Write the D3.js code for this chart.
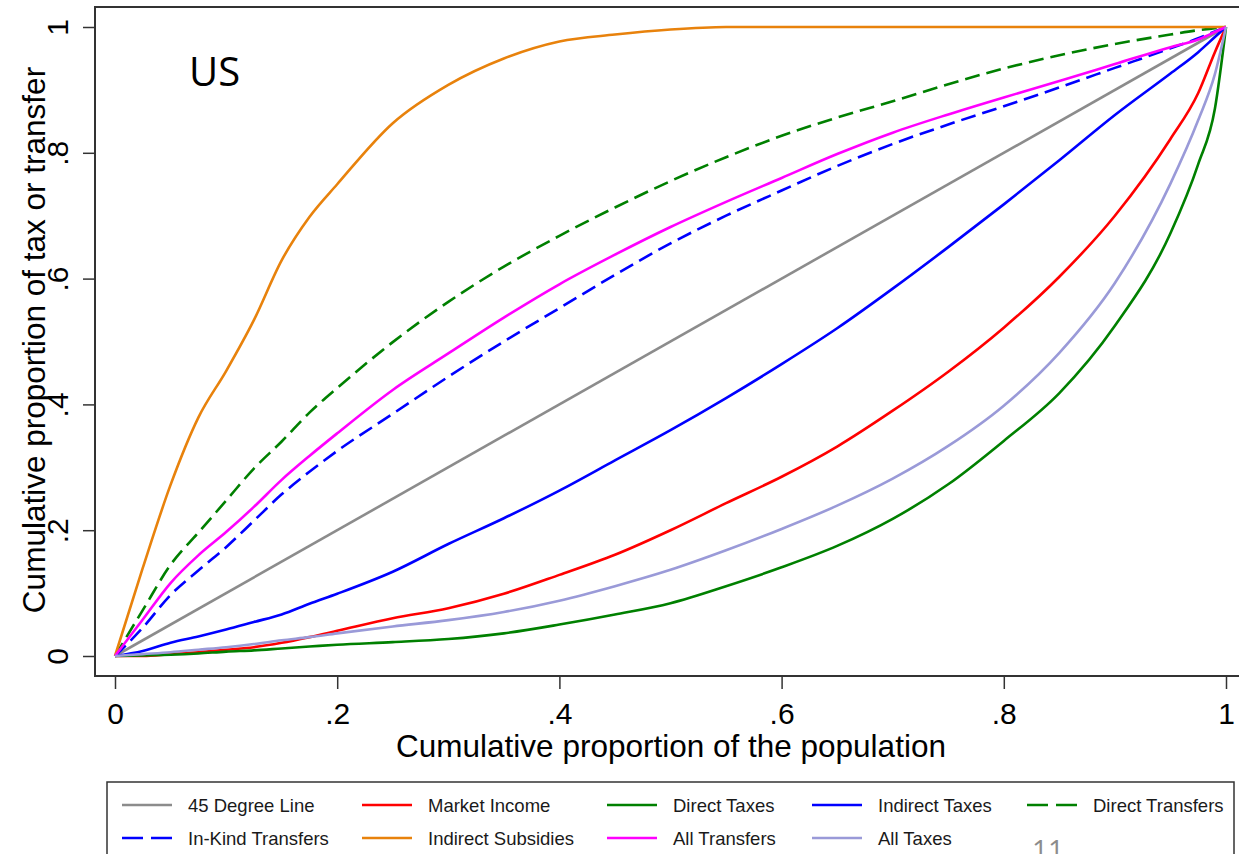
<!DOCTYPE html>
<html>
<head>
<meta charset="utf-8">
<script src="https://cdn.jsdelivr.net/npm/d3@7"></script>
<style>
	body { margin: 0; background: #fff; overflow: hidden; }
	text { font-family: "Liberation Sans", Arial, sans-serif; }
</style>
</head>
<body>
<svg id="chart" width="1239" height="854"></svg>
<script>
// cumulative proportion of the population (x grid)
const popShare = [0, 0.025, 0.05, 0.075, 0.1, 0.125, 0.15, 0.175, 0.2, 0.25, 0.3, 0.35, 0.4, 0.45, 0.5, 0.55, 0.6, 0.65, 0.7, 0.75, 0.8, 0.85, 0.9, 0.95, 0.975, 0.99, 1];

// concentration curves
const line45X = [0, 1];
const line45Y = [0, 1];
const marketIncome = [0, 0, 0.003, 0.006, 0.01, 0.014, 0.021, 0.03, 0.04, 0.06, 0.076, 0.099, 0.129, 0.161, 0.2, 0.243, 0.285, 0.333, 0.39, 0.452, 0.522, 0.603, 0.70, 0.822, 0.895, 0.96, 1];
const directTaxes = [0, 0.001, 0.002, 0.004, 0.007, 0.009, 0.012, 0.015, 0.018, 0.022, 0.027, 0.036, 0.05, 0.066, 0.084, 0.111, 0.141, 0.175, 0.218, 0.273, 0.342, 0.418, 0.525, 0.672, 0.782, 0.87, 1];
const indirectTaxes = [0, 0.008, 0.021, 0.031, 0.042, 0.054, 0.066, 0.083, 0.099, 0.134, 0.178, 0.219, 0.263, 0.311, 0.359, 0.41, 0.464, 0.521, 0.584, 0.65, 0.718, 0.788, 0.86, 0.926, 0.96, 0.984, 1];
const directTransfers = [0, 0.073, 0.145, 0.196, 0.247, 0.298, 0.341, 0.387, 0.426, 0.499, 0.563, 0.619, 0.668, 0.713, 0.755, 0.793, 0.827, 0.856, 0.882, 0.909, 0.934, 0.955, 0.973, 0.988, 0.995, 0.998, 1];
const inKindTransfers = [0, 0.045, 0.097, 0.136, 0.173, 0.215, 0.257, 0.293, 0.326, 0.385, 0.444, 0.5, 0.553, 0.606, 0.656, 0.70, 0.74, 0.779, 0.814, 0.845, 0.874, 0.904, 0.935, 0.966, 0.982, 0.993, 1];
const indirectSubsidies = [0, 0.14, 0.272, 0.379, 0.453, 0.534, 0.629, 0.698, 0.75, 0.847, 0.908, 0.95, 0.977, 0.988, 0.996, 1, 1, 1, 1, 1, 1, 1, 1, 1, 1, 1, 1];
const allTransfers = [0, 0.058, 0.116, 0.16, 0.197, 0.237, 0.28, 0.318, 0.354, 0.423, 0.481, 0.538, 0.591, 0.638, 0.682, 0.722, 0.76, 0.798, 0.832, 0.861, 0.888, 0.914, 0.941, 0.968, 0.98, 0.992, 1];
const allTaxes = [0, 0.003, 0.006, 0.01, 0.014, 0.019, 0.025, 0.03, 0.036, 0.047, 0.057, 0.07, 0.088, 0.111, 0.137, 0.168, 0.202, 0.239, 0.282, 0.334, 0.398, 0.482, 0.593, 0.751, 0.852, 0.925, 1];

const tickValues = [0, 0.2, 0.4, 0.6, 0.8, 1];

const series = [
	{ name: "45 Degree Line", xs: line45X, ys: line45Y, color: "#8c8c8c", dashed: false },
	{ name: "Market Income", xs: popShare, ys: marketIncome, color: "#ff0000", dashed: false },
	{ name: "Direct Taxes", xs: popShare, ys: directTaxes, color: "#008000", dashed: false },
	{ name: "Indirect Taxes", xs: popShare, ys: indirectTaxes, color: "#0000ff", dashed: false },
	{ name: "Direct Transfers", xs: popShare, ys: directTransfers, color: "#008000", dashed: true },
	{ name: "In-Kind Transfers", xs: popShare, ys: inKindTransfers, color: "#0000ff", dashed: true },
	{ name: "Indirect Subsidies", xs: popShare, ys: indirectSubsidies, color: "#e8820c", dashed: false },
	{ name: "All Transfers", xs: popShare, ys: allTransfers, color: "#ff00ff", dashed: false },
	{ name: "All Taxes", xs: popShare, ys: allTaxes, color: "#9a9ad8", dashed: false }
];

const svg = d3.select("#chart");

const x = d3.scaleLinear().domain([0, 1]).range([115, 1226]);
const y = d3.scaleLinear().domain([0, 1]).range([656, 27]);

const fmt = d => (d === 0 || d === 1) ? String(d) : String(d).replace("0.", ".");

// plot region frame (right side runs off the page)
svg.append("rect")
	.attr("x", 95).attr("y", 7)
	.attr("width", 1151).attr("height", 669)
	.attr("fill", "none")
	.attr("stroke", "#333")
	.attr("stroke-width", 2);

// y axis
const yAxis = svg.append("g")
	.attr("transform", "translate(95,0)")
	.call(d3.axisLeft(y).tickValues(tickValues).tickFormat(fmt).tickSize(12));
yAxis.select(".domain").remove();
yAxis.selectAll("line").attr("stroke", "#333").attr("stroke-width", 1.5);
yAxis.selectAll("text")
	.attr("x", null).attr("dy", null)
	.attr("transform", "translate(-27,0) rotate(-90)")
	.attr("text-anchor", "middle")
	.attr("fill", "#000")
	.style("font-size", "30px");

// x axis
const xAxis = svg.append("g")
	.attr("transform", "translate(0,676)")
	.call(d3.axisBottom(x).tickValues(tickValues).tickFormat(fmt).tickSize(13));
xAxis.select(".domain").remove();
xAxis.selectAll("line").attr("stroke", "#333").attr("stroke-width", 1.5);
xAxis.selectAll("text")
	.attr("y", 48).attr("dy", null)
	.attr("fill", "#000")
	.style("font-size", "30px");

// axis titles
svg.append("text")
	.attr("x", 671).attr("y", 757)
	.attr("text-anchor", "middle")
	.style("font-size", "31.5px")
	.text("Cumulative proportion of the population");

svg.append("text")
	.attr("transform", "translate(45,340) rotate(-90)")
	.attr("text-anchor", "middle")
	.style("font-size", "31.5px")
	.text("Cumulative proportion of tax or transfer");

// curves
const line = d3.line()
	.x(d => x(d[0]))
	.y(d => y(d[1]))
	.curve(d3.curveMonotoneX);

svg.append("g").selectAll("path")
	.data(series)
	.join("path")
	.attr("d", s => line(s.xs.map((v, i) => [v, s.ys[i]])))
	.attr("fill", "none")
	.attr("stroke", s => s.color)
	.attr("stroke-width", 2.6)
	.attr("stroke-dasharray", s => s.dashed ? "15,7" : null);

// country label
svg.append("text")
	.attr("x", 189).attr("y", 86)
	.style("font-family", "'Open Sans', sans-serif")
	.style("font-size", "40px")
	.text("US");

// legend
const legendColX = [122, 362, 607, 812, 1027];
const legendRowY = [805, 838];

svg.append("rect")
	.attr("x", 107).attr("y", 782)
	.attr("width", 1127).attr("height", 110)
	.attr("fill", "#fff")
	.attr("stroke", "#333")
	.attr("stroke-width", 1.5);

const legendItem = svg.append("g").selectAll("g")
	.data(series)
	.join("g")
	.attr("transform", (s, i) => `translate(${legendColX[i % 5]},${legendRowY[Math.floor(i / 5)]})`);

legendItem.append("line")
	.attr("x1", 0).attr("x2", 50)
	.attr("stroke", s => s.color)
	.attr("stroke-width", 2.6)
	.attr("stroke-dasharray", s => s.dashed ? "21,8" : null);

legendItem.append("text")
	.attr("x", 66)
	.attr("dy", "0.36em")
	.attr("fill", "#1a1a1a")
	.style("font-size", "18.5px")
	.text(s => s.name);

// slide page number (cut off by the bottom edge, as in the slide)
svg.append("text")
	.attr("x", 1032).attr("y", 860)
	.attr("fill", "#8c8c8c")
	.style("font-family", "'Open Sans', sans-serif")
	.style("font-size", "28px")
	.text("11");
</script>
</body>
</html>
